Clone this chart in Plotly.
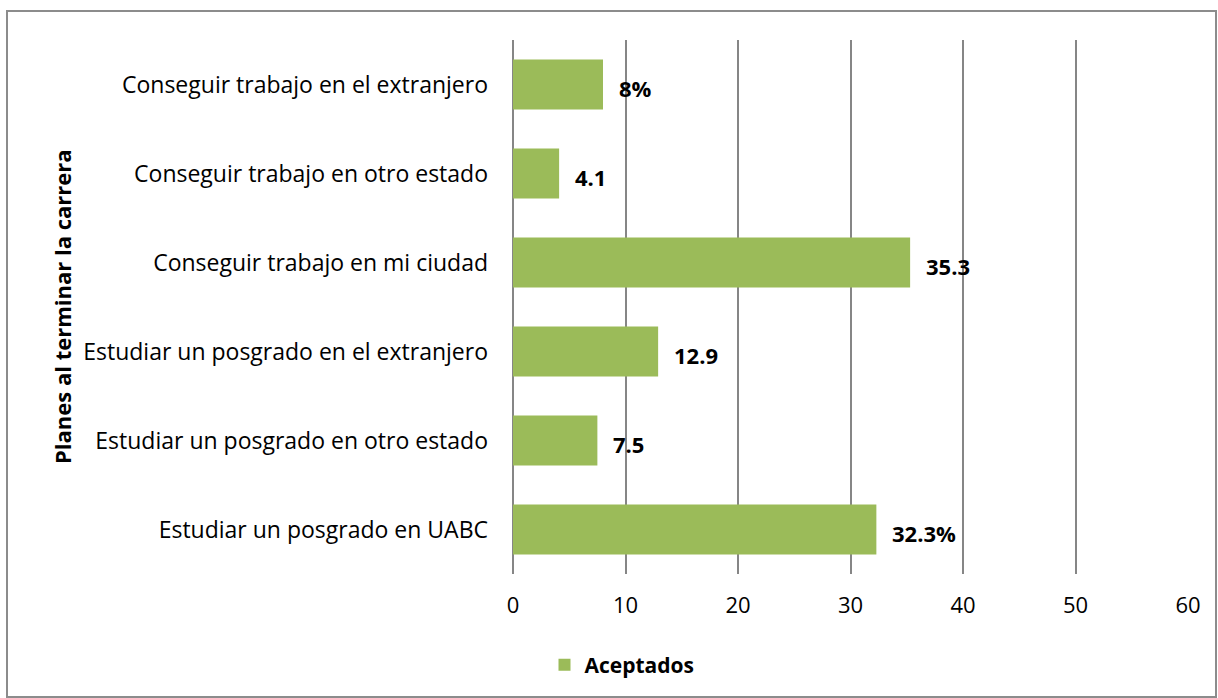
import plotly.graph_objects as go

categories = [
    "Estudiar un posgrado en UABC",
    "Estudiar un posgrado en otro estado",
    "Estudiar un posgrado en el extranjero",
    "Conseguir trabajo en mi ciudad",
    "Conseguir trabajo en otro estado",
    "Conseguir trabajo en el extranjero",
]
values = [32.3, 7.5, 12.9, 35.3, 4.1, 8]
labels = ["32.3%", "7.5", "12.9", "35.3", "4.1", "8%"]
tick_vals = [0, 10, 20, 30, 40, 50, 60]
series_name = "Aceptados"
axis_title = "Planes al terminar la carrera"

FONT = "Open Sans, Carlito, Calibri, sans-serif"
GREEN = "#9BBB59"
L, R, T, B = 513, 30, 40, 124
PW, PH = 1218 - L - R, 698 - T - B

fig = go.Figure()
fig.add_trace(go.Bar(
    x=values, y=categories, orientation="h", name="<b>" + series_name + "</b>",
    marker=dict(color=GREEN, line=dict(width=0)), width=0.56,
    showlegend=True,
))

for v, c, t in zip(values, categories, labels):
    fig.add_annotation(x=v, y=c, text="<b>" + t + "</b>", showarrow=False,
                       xanchor="left", yanchor="middle", xshift=14, yshift=-3,
                       font=dict(family=FONT, size=22, color="black"))

fig.add_annotation(xref="paper", yref="paper", x=(62 - L) / PW,
                   y=(574 - 307) / PH, text="<b>" + axis_title + "</b>",
                   textangle=-90, showarrow=False, xanchor="center",
                   yanchor="middle", font=dict(family=FONT, size=22, color="black"))

fig.update_layout(
    width=1218, height=698,
    margin=dict(l=L, r=R, t=T, b=B),
    paper_bgcolor="white", plot_bgcolor="white",
    font=dict(family=FONT, size=22, color="black"),
    xaxis=dict(range=[0, 60], tickvals=tick_vals, showgrid=True,
               gridcolor="#868686", gridwidth=1.5, zeroline=True,
               zerolinecolor="#868686", zerolinewidth=1.5, showline=False,
               ticks="", tickfont=dict(size=22), ticklabelstandoff=16),
    yaxis=dict(categoryorder="array", categoryarray=categories,
               showgrid=False, showline=False, ticks="", ticklabelstandoff=24,
               tickfont=dict(size=23)),
    legend=dict(orientation="h", x=(622 - L) / PW, xref="paper", xanchor="center",
                y=(574 - 665) / PH, yanchor="middle", font=dict(size=21),
                bgcolor="rgba(0,0,0,0)", itemwidth=30),
)
fig.add_shape(type="rect", xref="paper", yref="paper",
              x0=(7 - L) / PW, x1=(1216 - L) / PW,
              y0=-(697 - 574) / PH, y1=1 + (T - 11) / PH,
              line=dict(color="#8C8C8C", width=2), fillcolor="rgba(0,0,0,0)",
              layer="below")

fig.write_html("out.html", config={"displayModeBar": False},
               post_script="document.body.style.margin='0';document.body.style.overflow='hidden';")
